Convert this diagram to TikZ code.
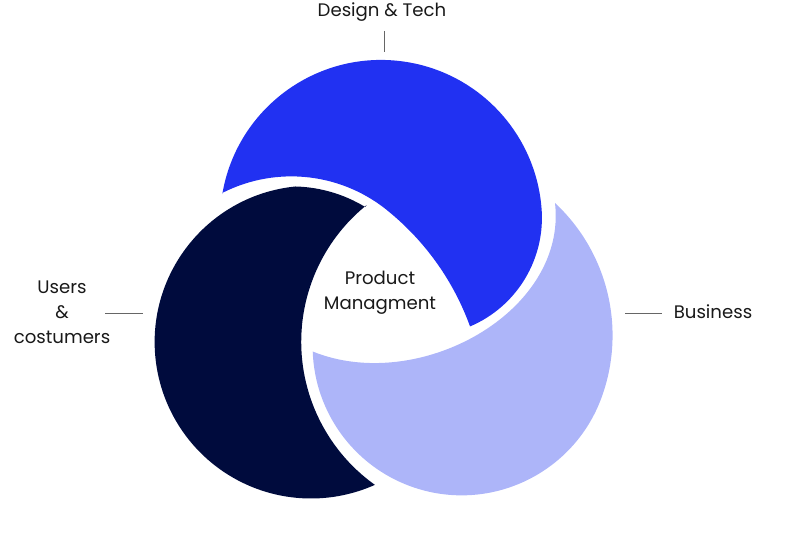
\documentclass[tikz,border=0pt]{standalone}
\usepackage{fontspec}
\setmainfont{Poppins}
\usepackage{tikz}
\definecolor{techblue}{HTML}{2131F2}
\definecolor{usernavy}{HTML}{000B3D}
\definecolor{bizlilac}{HTML}{ADB5F9}

\begin{document}
\begin{tikzpicture}[x=0.025cm, y=-0.025cm, lbl/.style={font=\fontsize{12.9}{17.7}\selectfont, text=black!90, align=center, inner sep=0pt}, tick/.style={draw=black!60, line width=0.6pt}]
        \useasboundingbox (0,0) rectangle (800,556);
        \fill[techblue] (222.3,194.1) arc[start angle=189.6, end angle=355, radius=161] arc[start angle=-5.3, end angle=67, radius=118]
            arc[start angle=-19.9, end angle=-50.2, radius=265] arc[start angle=-49.4, end angle=-117, radius=152.3] -- cycle;
        \fill[usernavy] (365.2,207) arc[start angle=-58.7, end angle=-88.5, radius=141.3] arc[start angle=264.3, end angle=65.9, radius=156.4]
            arc[start angle=125.5, end angle=231.1, radius=175.7] -- cycle;
        \fill[bizlilac] (555,203) arc[start angle=-47, end angle=20, radius=181] arc[start angle=20, end angle=178, radius=149]
            .. controls (418.5,394.3) and (567.4,312.3) .. (555,203) -- cycle;
        \node[lbl] (tech) at (382,12) {Design \& Tech};
        \node[lbl] (users) at (62,312) {Users\\\&\\costumers};
        \node[lbl] (business) at (713,312) {Business};
        \node[lbl] (product) at (380,293) {Product\\Managment};
        \coordinate (t1) at (384,31);
        \coordinate (t2) at (384,52);
        \coordinate (u1) at (105,313);
        \coordinate (u2) at (142.5,313);
        \coordinate (b1) at (625,313);
        \coordinate (b2) at (662,313);
        \draw[tick] (t1) -- (t2);
        \draw[tick] (u1) -- (u2);
        \draw[tick] (b1) -- (b2);
    \end{tikzpicture}
\end{document}
